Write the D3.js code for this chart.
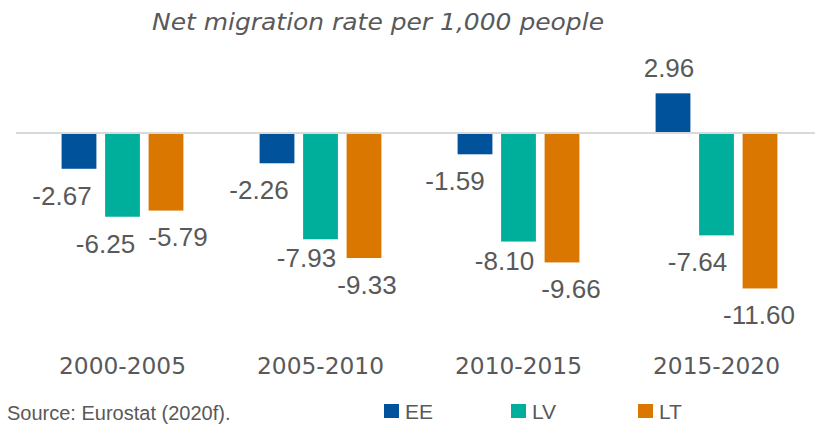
<!DOCTYPE html>
<html>
<head>
<meta charset="utf-8">
<script src="https://cdn.jsdelivr.net/npm/d3@7"></script>
<style>
  html, body { margin: 0; padding: 0; background: #fff; }
  svg { display: block; }
</style>
</head>
<body>
<svg id="chart" width="821" height="426"></svg>
<script>
// Net migration rate per 1,000 people, Baltic states, five-year periods
const categories = ["2000-2005", "2005-2010", "2010-2015", "2015-2020"];
const seriesNames = ["EE", "LV", "LT"];
const EE = [-2.67, -2.26, -1.59, 2.96];
const LV = [-6.25, -7.93, -8.10, -7.64];
const LT = [-5.79, -9.33, -9.66, -11.60];
const colors = ["#00529b", "#00ae9c", "#d97700"];

// hand-placed value label nudges [dx, dy] per series and period
const labelNudge = [
  [[-17, 0], [-18, 0], [-20, 0], [-4, 0]],
  [[-17, 0], [-14, -8], [-14, -8], [-19, 0]],
  [[12, -1], [3, 0], [9, 0], [-1, 0]]
];

const seriesValues = [EE, LV, LT];
const rows = categories.map((c, i) => ({
  cat: c,
  vals: seriesNames.map((s, j) => ({ s, j, i, v: seriesValues[j][i] }))
}));

const svg = d3.select("#chart");
const textColor = "#595959";

const x0 = d3.scaleBand().domain(categories).range([23.5, 815.5]).padding(0);
const x1 = d3.scaleBand().domain(seriesNames)
  .range([33.75, 164.25]).paddingInner(0.2).paddingOuter(0.1);
const y = d3.scaleLinear().domain([-12, 4]).range([133 + 12 * 13.4, 133 - 4 * 13.4]);

// title
svg.append("text")
  .attr("x", 378).attr("y", 30)
  .attr("text-anchor", "middle")
  .attr("font-family", "DejaVu Sans, sans-serif")
  .attr("font-style", "italic")
  .attr("font-size", 23)
  .attr("fill", textColor)
  .attr("textLength", 452)
  .attr("lengthAdjust", "spacingAndGlyphs")
  .text("Net migration rate per 1,000 people");

// bars
const groups = svg.append("g").selectAll("g").data(rows).join("g")
  .attr("transform", d => `translate(${x0(d.cat)},0)`);

groups.selectAll("rect").data(d => d.vals).join("rect")
  .attr("x", d => x1(d.s))
  .attr("width", x1.bandwidth())
  .attr("y", d => Math.min(y(d.v), y(0)))
  .attr("height", d => Math.abs(y(d.v) - y(0)))
  .attr("fill", d => colors[d.j]);

// zero baseline
svg.append("line")
  .attr("x1", 16).attr("x2", 815)
  .attr("y1", y(0)).attr("y2", y(0))
  .attr("stroke", "#d9d9d9").attr("stroke-width", 2);

// value labels
groups.selectAll("text.val").data(d => d.vals).join("text")
  .attr("class", "val")
  .attr("x", d => x1(d.s) + x1.bandwidth() / 2 + labelNudge[d.j][d.i][0])
  .attr("y", d => (d.v < 0 ? y(d.v) + 36 : y(d.v) - 16) + labelNudge[d.j][d.i][1])
  .attr("text-anchor", "middle")
  .attr("font-family", "Liberation Sans, Arial, sans-serif")
  .attr("font-size", 26)
  .attr("fill", textColor)
  .text(d => d.v.toFixed(2));

// category axis labels
svg.append("g").selectAll("text").data(categories).join("text")
  .attr("x", d => x0(d) + x0.bandwidth() / 2)
  .attr("y", 373.5)
  .attr("text-anchor", "middle")
  .attr("font-family", "DejaVu Sans, sans-serif")
  .attr("font-size", 23)
  .attr("fill", textColor)
  .attr("textLength", 127)
  .attr("lengthAdjust", "spacingAndGlyphs")
  .text(d => d);

// source note
svg.append("text")
  .attr("x", 7).attr("y", 419.5)
  .attr("font-family", "Liberation Sans, Arial, sans-serif")
  .attr("font-size", 20)
  .attr("fill", textColor)
  .attr("xml:space", "preserve")
  .text("Source: Eurostat (2020f).");

// legend
const legendX = d3.scalePoint().domain(seriesNames).range([384, 638]);
const legend = svg.append("g").selectAll("g").data(seriesNames).join("g")
  .attr("transform", d => `translate(${legendX(d)},404)`);
legend.append("rect")
  .attr("width", 15).attr("height", 14)
  .attr("fill", (d, i) => colors[i]);
legend.append("text")
  .attr("x", 21).attr("y", 14.5)
  .attr("font-family", "Liberation Sans, Arial, sans-serif")
  .attr("font-size", 21)
  .attr("fill", textColor)
  .text(d => d);
</script>
</body>
</html>
